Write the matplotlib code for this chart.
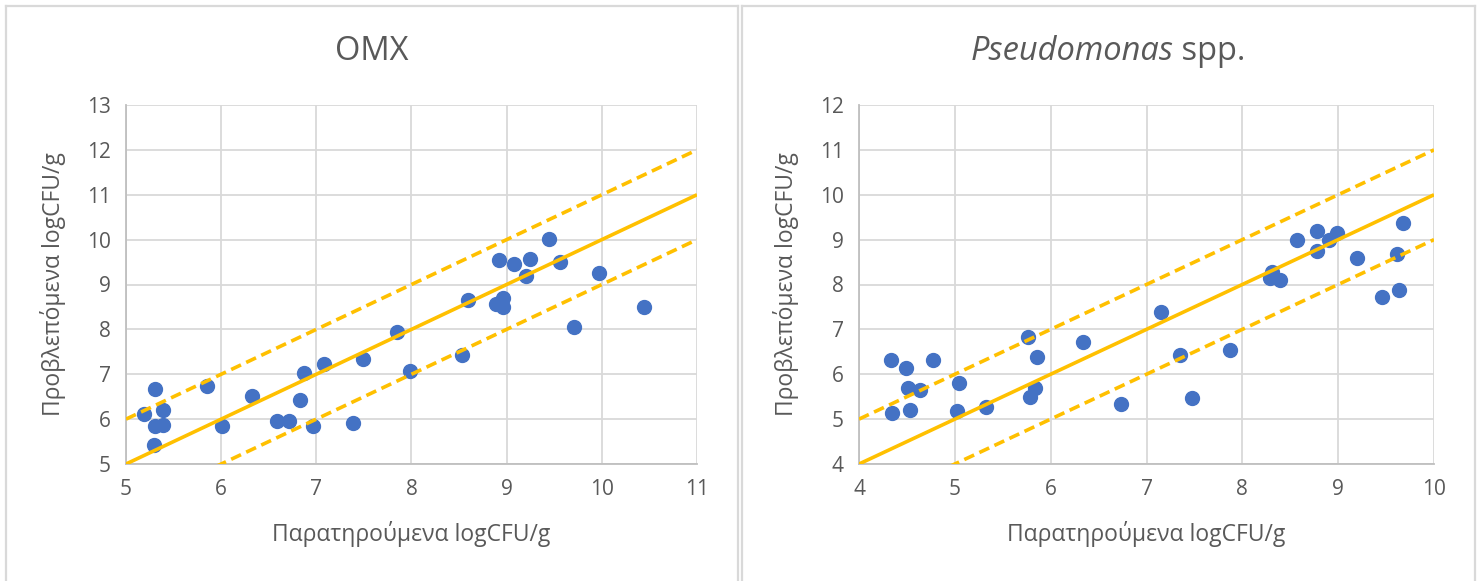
import numpy as np
import matplotlib.pyplot as plt
from matplotlib.lines import Line2D

plt.rcParams['font.family'] = ['Open Sans', 'DejaVu Sans']

# Observed vs predicted counts, total viable count (OMX)
omx_obs = [5.19, 5.30, 5.39, 5.30, 5.39, 5.29, 5.85, 6.01, 6.32, 6.59, 6.71,
           6.83, 6.87, 6.96, 7.08, 7.39, 7.49, 7.85, 7.98, 8.53, 8.59, 8.92,
           9.08, 9.25, 9.44, 9.56, 9.20, 9.97, 8.96, 8.89, 8.96, 9.71, 10.44]
omx_pred = [6.11, 6.67, 6.20, 5.85, 5.87, 5.42, 6.74, 5.85, 6.52, 5.96, 5.96,
            6.43, 7.03, 5.85, 7.22, 5.91, 7.33, 7.95, 7.08, 7.43, 8.65, 9.55,
            9.46, 9.56, 10.01, 9.50, 9.19, 9.25, 8.71, 8.56, 8.49, 8.05, 8.49]

# Observed vs predicted counts, Pseudomonas spp.
pse_obs = [4.33, 4.49, 4.77, 4.51, 4.64, 4.34, 4.53, 5.04, 5.02, 5.32, 5.76,
           5.86, 5.84, 5.78, 6.34, 6.73, 7.15, 7.35, 7.47, 7.87, 8.31, 8.29,
           8.39, 8.57, 8.78, 8.78, 8.90, 8.99, 9.20, 9.68, 9.61, 9.46, 9.63]
pse_pred = [6.32, 6.15, 6.32, 5.69, 5.65, 5.14, 5.20, 5.81, 5.18, 5.28, 6.82,
            6.39, 5.69, 5.49, 6.71, 5.33, 7.39, 6.44, 5.46, 6.54, 8.28, 8.14,
            8.11, 9.00, 9.20, 8.75, 8.99, 9.14, 8.60, 9.36, 8.69, 7.73, 7.88]

# line of equality and +/- 1 log band
omx_line_x = np.array([5, 11])
pse_line_x = np.array([4, 10])
band = 1.0

text_col = '#595959'
grid_col = '#d9d9d9'
dot_col = '#4472C4'
line_col = '#FFC000'

W, H = 1478, 581
fig = plt.figure(figsize=(W / 100, H / 100), dpi=100)


def panel(rect, obs, pred, line_x, xlim, ylim):
    ax = fig.add_axes(rect)
    ax.scatter(obs, pred, s=100, color=dot_col, edgecolors=dot_col, zorder=3)
    ax.plot(line_x, line_x, color=line_col, lw=2.6, zorder=4,
            solid_capstyle='butt')
    for off in (band, -band):
        ax.plot(line_x, line_x + off, color=line_col, lw=2.6, zorder=4,
                linestyle=(0, (3.0, 1.6)), dash_capstyle='butt')
    ax.set_xlim(*xlim)
    ax.set_ylim(*ylim)
    ax.set_xticks(np.arange(xlim[0], xlim[1] + 1))
    ax.set_yticks(np.arange(ylim[0], ylim[1] + 1))
    ax.grid(True, color=grid_col, lw=1.3, zorder=0)
    ax.set_axisbelow(True)
    for s in ('top', 'right'):
        ax.spines[s].set_visible(False)
    for s in ('left', 'bottom'):
        ax.spines[s].set_color('#bfbfbf')
        ax.spines[s].set_linewidth(1.3)
    ax.tick_params(length=0, labelsize=15, colors=text_col)
    ax.tick_params(axis='y', pad=11)
    ax.tick_params(axis='x', pad=11)
    ax.set_xlabel('Παρατηρούμενα logCFU/g', fontsize=16.5, color=text_col,
                  labelpad=15)
    ax.set_ylabel('Προβλεπόμενα logCFU/g', fontsize=16.5, color=text_col,
                  labelpad=15)
    return ax


ax1 = panel([126 / W, 1 - 464 / H, 571 / W, 359 / H], omx_obs, omx_pred,
            omx_line_x, (5, 11), (5, 13))
ax2 = panel([859 / W, 1 - 464 / H, 575 / W, 359 / H], pse_obs, pse_pred,
            pse_line_x, (4, 10), (4, 12))

title_y = 1 - 52 / H
fig.text(372 / W, title_y, 'OMX', ha='center', va='center', fontsize=23.5,
         color=text_col)

# italic genus name followed by upright "spp."
renderer = fig.canvas.get_renderer()
p1 = fig.text(0, title_y, 'Pseudomonas', fontsize=23.5, style='italic',
              color=text_col, va='center', ha='left')
p2 = fig.text(0, title_y, ' spp.', fontsize=23.5, color=text_col,
              va='center', ha='left')
w1 = p1.get_window_extent(renderer).width
w2 = p2.get_window_extent(renderer).width
x0 = 1108 - (w1 + w2) / 2
p1.set_x(x0 / W)
p2.set_x((x0 + w1) / W)

# chart-area borders
bc = '#d9d9d9'
for xa, xb in ((6, 738), (742, 1475)):
    fig.add_artist(Line2D([xa / W, xb / W], [1 - 6 / H, 1 - 6 / H],
                          color=bc, lw=1.6))
    for xe in (xa, xb):
        fig.add_artist(Line2D([xe / W, xe / W], [0, 1 - 6 / H],
                              color=bc, lw=1.6))

fig.savefig('out.png', dpi=100)
